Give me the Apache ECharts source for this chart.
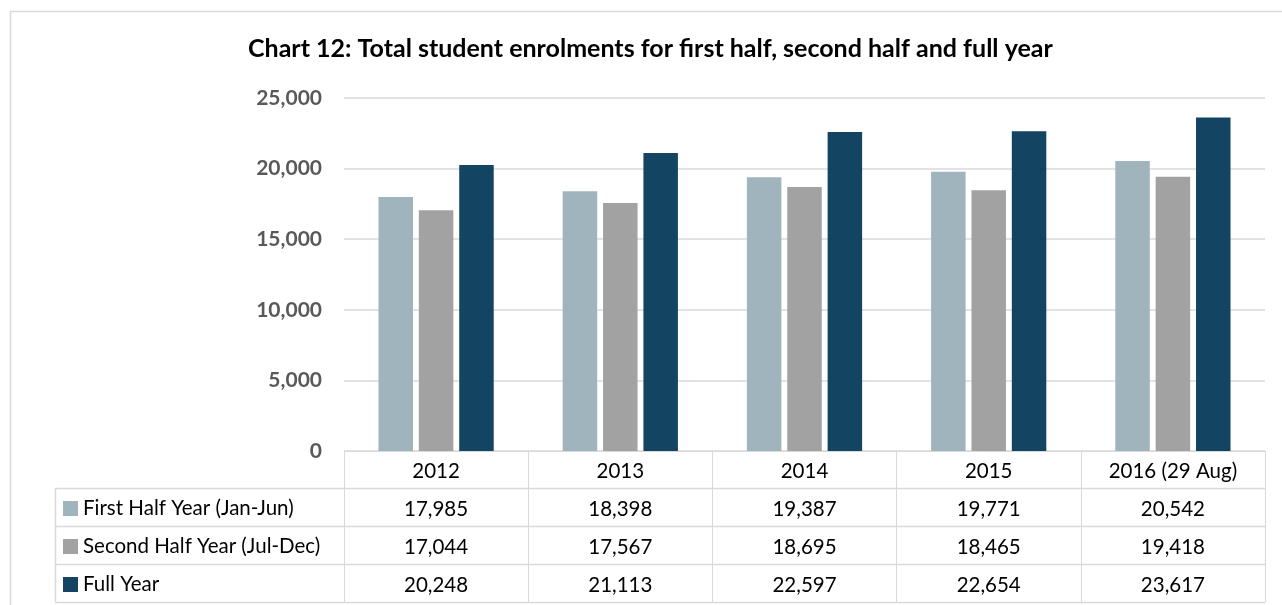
<!DOCTYPE html>
<html>
<head>
<meta charset="utf-8">
<script src="https://cdn.jsdelivr.net/npm/echarts@6/dist/echarts.min.js"></script>
<style>
html,body{margin:0;padding:0;background:#fff;}
#chart{width:1282px;height:605px;}
</style>
</head>
<body>
<div id="chart"></div>
<script>
const titleText = 'Chart 12: Total student enrolments for first half, second half and full year';
const categories = ['2012', '2013', '2014', '2015', '2016 (29 Aug)'];
const seriesNames = ['First Half Year (Jan-Jun)', 'Second Half Year (Jul-Dec)', 'Full Year'];
const firstHalf = [17985, 18398, 19387, 19771, 20542];
const secondHalf = [17044, 17567, 18695, 18465, 19418];
const fullYear = [20248, 21113, 22597, 22654, 23617];
const seriesColors = ['#9fb4bd', '#a2a2a2', '#134462'];

const allSeries = [firstHalf, secondHalf, fullYear];
const fmt = v => Number(v).toLocaleString('en-US');
const FONT = 'Lato, "Open Sans", sans-serif';
const gridColor = '#d9d9d9';

const gridLeft = 344, gridRight = 1265, gridTop = 98, gridBottom = 451;
const headerH = 37, rowH = 38;
const tableLeft = 55;
const tableFont = 20.5;

const xAxes = [{
  type: 'category',
  data: categories,
  gridIndex: 0,
  position: 'bottom',
  axisLine: { show: true, lineStyle: { color: gridColor, width: 1 } },
  axisTick: { show: true, length: headerH + rowH * 3, alignWithLabel: false, lineStyle: { color: gridColor, width: 1 } },
  axisLabel: { interval: 0, margin: 10, fontFamily: FONT, fontSize: tableFont, color: '#000' }
}];
allSeries.forEach((arr, i) => {
  xAxes.push({
    type: 'category',
    data: categories,
    gridIndex: 0,
    position: 'bottom',
    offset: rowH * (i + 1),
    axisLine: { show: false },
    axisTick: { show: false },
    axisLabel: {
      interval: 0, margin: 10, fontFamily: FONT, fontSize: tableFont, color: '#000',
      formatter: (v, idx) => fmt(arr[idx])
    }
  });
});

const legends = seriesNames.map((n, i) => ({
  data: [n],
  orient: 'vertical',
  left: 63,
  top: gridBottom + headerH + rowH * i + 10,
  padding: 0,
  itemWidth: 15,
  itemHeight: 15,
  icon: 'rect',
  textStyle: { fontFamily: FONT, fontSize: tableFont, color: '#000' },
  selectedMode: false
}));

const tableLines = [];
for (let r = 0; r <= 3; r++) {
  const y = gridBottom + headerH + rowH * r + 0.5;
  tableLines.push({ type: 'line', shape: { x1: tableLeft, y1: y, x2: gridRight, y2: y }, style: { stroke: gridColor, lineWidth: 1.5 } });
}
tableLines.push({ type: 'line', shape: { x1: tableLeft + 0.5, y1: gridBottom + headerH, x2: tableLeft + 0.5, y2: gridBottom + headerH + rowH * 3 }, style: { stroke: gridColor, lineWidth: 1.5 } });

const option = {
  backgroundColor: '#fff',
  animation: false,
  title: {
    text: titleText,
    left: 248,
    top: 36,
    padding: 0,
    textStyle: { fontFamily: FONT, fontSize: 25, fontWeight: 'bold', color: '#000' }
  },
  legend: legends,
  graphic: [
    { type: 'rect', shape: { x: 10.5, y: 11.5, width: 1300, height: 700 }, style: { fill: 'none', stroke: gridColor, lineWidth: 1.5 }, z: 0 },
    ...tableLines
  ],
  grid: { left: gridLeft, right: 1282 - gridRight, top: gridTop, bottom: 605 - gridBottom, containLabel: false },
  xAxis: xAxes,
  yAxis: {
    type: 'value',
    min: 0, max: 25000, interval: 5000,
    axisLine: { show: false },
    axisTick: { show: false },
    splitLine: { lineStyle: { color: gridColor, width: 1.5 } },
    axisLabel: { margin: 22, fontFamily: FONT, fontSize: 21, fontWeight: 'bold', color: '#595959', formatter: v => fmt(v) }
  },
  series: allSeries.map((arr, i) => ({
    name: seriesNames[i],
    type: 'bar',
    data: arr,
    barWidth: 34.5,
    barGap: '17%',
    itemStyle: { color: seriesColors[i] }
  }))
};

const chart = echarts.init(document.getElementById('chart'), null, { renderer: 'canvas' });
chart.setOption(option);
</script>
</body>
</html>
